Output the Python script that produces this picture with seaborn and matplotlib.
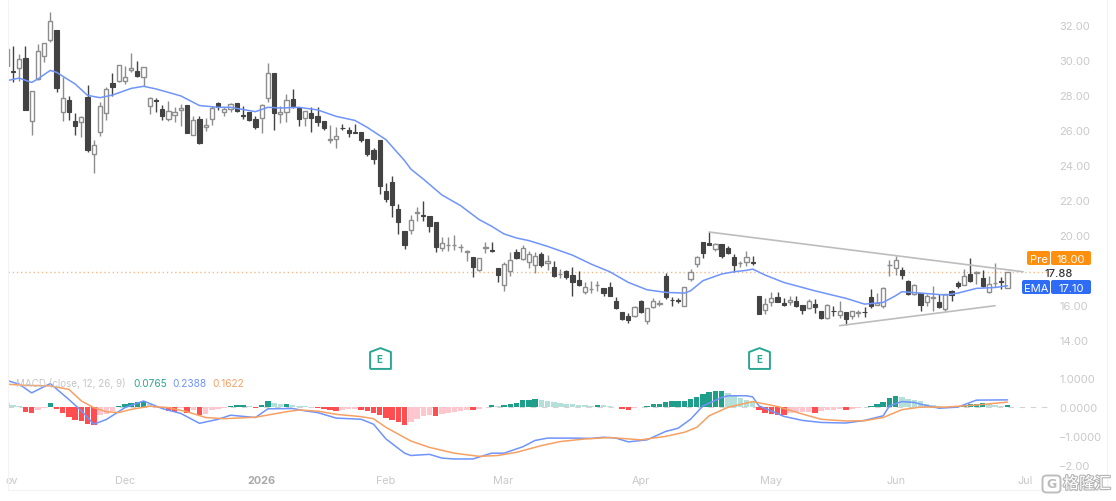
import matplotlib
matplotlib.use("Agg")
import matplotlib.pyplot as plt
import matplotlib.patheffects as pe
from matplotlib.patches import FancyBboxPatch, Rectangle
from matplotlib.transforms import IdentityTransform
import numpy as np
import pandas as pd
import seaborn as sns

# Daily candles, oldest first
opens = [
    29.68, 29.37, 29.53, 30.12, 26.54, 28.92, 30.25, 31.17, 31.74, 27.01,
    27.70, 26.52, 26.44, 27.87, 24.63, 25.87, 26.97, 28.69, 28.78, 28.80,
    29.41, 29.39, 29.01, 27.36, 27.73, 27.20, 26.63, 26.88, 27.15, 27.43,
    25.72, 26.63, 26.17, 26.63, 27.55, 27.05, 27.18, 27.53, 26.86, 27.03,
    26.63, 26.67, 27.81, 29.24, 26.90, 27.01, 27.79, 27.26, 26.69, 26.97,
    26.78, 26.54, 25.41, 25.49, 26.13, 26.00, 25.89, 25.91, 25.49, 24.88,
    25.45, 22.52, 23.03, 21.47, 20.21, 20.27, 21.28, 21.13, 21.09, 20.76,
    19.26, 19.43, 19.43, 19.31, 19.05, 18.72, 17.98, 19.27, 19.14, 18.11,
    17.14, 17.96, 19.01, 18.63, 18.44, 18.30, 18.91, 18.38, 18.20, 17.78,
    17.96, 17.71, 17.40, 16.72, 16.89, 17.13, 16.95, 17.00, 16.24, 15.61,
    15.39, 15.39, 16.24, 15.10, 15.88, 16.07, 17.63, 16.30, 16.26, 15.97,
    17.48, 18.37, 19.58, 19.54, 19.19, 19.48, 19.27, 18.76, 18.38, 18.43,
    18.45, 16.53, 15.71, 16.18, 16.45, 16.13, 16.15, 16.24, 16.00, 15.80,
    16.03, 15.67, 15.23, 15.68, 15.42, 15.58, 15.35, 15.56, 15.61, 16.43,
    16.01, 15.96, 18.28, 18.09, 17.99, 17.39, 16.62, 16.68, 16.15, 16.41,
    16.18, 15.77, 16.80, 17.25, 17.14, 17.77, 17.84, 17.56, 16.72, 17.23,
    17.36, 16.99,
]
highs = [
    30.63, 30.78, 30.35, 30.82, 28.21, 30.92, 30.96, 32.73, 31.74, 29.01,
    27.93, 26.97, 26.78, 28.57, 25.45, 27.58, 28.44, 29.26, 29.72, 29.68,
    30.40, 29.93, 29.60, 27.87, 27.81, 27.43, 27.68, 27.30, 27.49, 27.43,
    26.82, 26.78, 26.67, 27.36, 27.62, 27.30, 27.55, 27.55, 27.36, 27.03,
    26.82, 27.47, 29.83, 29.24, 27.39, 28.06, 28.35, 27.26, 27.11, 27.30,
    27.30, 26.54, 26.29, 26.16, 26.33, 26.16, 26.35, 25.91, 25.49, 24.95,
    25.45, 22.95, 23.35, 21.77, 20.21, 21.14, 21.62, 21.96, 21.09, 20.76,
    19.91, 19.87, 19.98, 19.47, 19.16, 18.72, 18.67, 19.62, 19.58, 18.11,
    18.44, 19.01, 19.20, 19.43, 19.10, 19.01, 19.05, 18.86, 18.49, 18.05,
    18.01, 18.20, 17.96, 17.29, 17.39, 17.39, 16.95, 17.29, 16.43, 15.61,
    15.54, 15.92, 16.28, 15.82, 16.38, 16.30, 17.82, 16.43, 16.39, 17.00,
    18.05, 18.81, 19.58, 20.15, 19.54, 19.48, 19.38, 18.91, 18.53, 19.10,
    18.78, 16.53, 16.38, 16.76, 16.76, 16.38, 16.49, 16.49, 16.00, 16.34,
    16.34, 15.67, 16.05, 15.92, 16.24, 15.58, 15.67, 15.73, 15.86, 16.91,
    16.68, 17.00, 18.59, 18.78, 18.15, 17.42, 17.18, 16.68, 16.60, 17.10,
    16.62, 16.62, 16.87, 17.38, 18.05, 18.66, 17.96, 18.01, 17.67, 18.40,
    17.58, 17.90,
]
lows = [
    29.68, 28.73, 28.82, 27.17, 25.72, 28.88, 29.87, 31.01, 28.19, 26.54,
    26.59, 25.72, 25.58, 24.76, 23.55, 25.68, 26.59, 27.97, 28.73, 28.63,
    29.30, 29.01, 28.50, 26.92, 27.01, 26.59, 26.50, 26.44, 26.21, 25.81,
    25.72, 25.18, 25.97, 26.29, 27.17, 26.82, 27.05, 27.05, 26.63, 26.54,
    26.06, 25.83, 27.62, 26.02, 26.40, 26.48, 27.24, 26.21, 26.21, 25.91,
    26.21, 26.02, 25.26, 24.97, 26.02, 25.62, 25.83, 25.30, 24.53, 24.06,
    22.34, 21.87, 21.05, 20.06, 19.20, 20.06, 20.82, 20.82, 20.15, 19.05,
    19.10, 19.10, 19.14, 19.01, 18.53, 17.60, 17.92, 18.95, 19.01, 17.33,
    16.82, 17.67, 18.63, 18.59, 18.11, 17.83, 18.19, 18.02, 17.58, 17.52,
    17.48, 16.49, 17.10, 16.62, 16.68, 16.81, 16.53, 16.51, 15.77, 15.14,
    14.95, 15.29, 15.54, 14.93, 15.84, 15.92, 16.34, 15.92, 16.11, 15.95,
    17.39, 18.15, 18.66, 19.42, 19.10, 18.68, 18.91, 17.90, 18.15, 18.24,
    18.28, 15.48, 15.48, 15.92, 16.15, 15.96, 15.99, 15.86, 15.48, 15.77,
    15.54, 15.19, 15.19, 15.38, 15.23, 14.85, 15.19, 15.29, 15.29, 15.80,
    16.00, 15.80, 17.63, 17.71, 17.48, 16.57, 16.57, 15.67, 15.96, 15.67,
    15.80, 15.63, 16.24, 16.95, 17.14, 17.33, 17.19, 17.00, 16.68, 17.00,
    16.91, 16.95,
]
closes = [
    30.63, 29.32, 30.06, 27.17, 28.21, 30.54, 30.96, 32.21, 28.38, 27.81,
    27.05, 26.25, 26.73, 24.88, 25.17, 27.39, 28.35, 28.48, 29.72, 29.05,
    29.53, 29.07, 29.60, 27.81, 27.66, 26.82, 27.07, 27.05, 27.28, 25.81,
    26.59, 25.24, 26.27, 27.24, 27.32, 27.18, 27.47, 27.07, 26.82, 26.57,
    26.16, 27.43, 29.26, 26.97, 27.01, 27.72, 27.39, 26.63, 27.11, 26.69,
    26.44, 26.10, 25.47, 25.64, 26.10, 25.85, 25.83, 25.43, 24.61, 24.34,
    22.82, 22.06, 21.73, 20.72, 19.43, 20.84, 21.30, 21.11, 20.53, 19.30,
    19.54, 19.45, 19.45, 19.33, 19.07, 18.19, 18.67, 19.29, 19.11, 17.73,
    18.34, 18.59, 18.67, 19.24, 18.90, 18.78, 18.29, 18.51, 17.67, 17.80,
    17.58, 17.33, 17.16, 17.04, 16.91, 17.15, 16.70, 16.51, 15.82, 15.18,
    15.12, 15.86, 15.61, 15.82, 16.22, 16.09, 16.47, 16.27, 16.23, 17.00,
    17.86, 18.76, 19.00, 19.42, 19.46, 18.78, 19.00, 18.30, 18.40, 18.72,
    18.42, 15.48, 16.05, 16.41, 16.18, 16.01, 16.28, 15.96, 15.73, 16.24,
    15.86, 15.23, 16.00, 15.66, 15.67, 15.19, 15.65, 15.58, 15.59, 15.92,
    16.11, 16.95, 18.30, 18.59, 17.71, 16.62, 17.14, 15.99, 16.49, 16.43,
    15.86, 16.62, 16.57, 17.06, 17.67, 17.39, 17.86, 17.06, 17.20, 17.25,
    17.34, 17.88,
]

# Moving average, read at the bars listed
ema_bars = [1, 3, 5, 6, 8, 9, 12, 14, 16, 18, 21, 23, 25, 29, 32, 35, 37, 41, 43, 45,
            48, 51, 54, 57, 59, 62, 65, 66, 68, 71, 74, 77, 79, 81, 83, 85, 88, 92, 95,
            98, 101, 104, 107, 110, 111, 113, 116, 118, 120, 121, 123, 126, 131, 136,
            139, 142, 144, 145, 148, 152, 154, 157, 160, 162]
ema_vals = [28.82, 28.97, 28.72, 28.92, 29.41, 29.3, 28.63, 27.98, 27.85, 28.0, 28.38,
            28.5, 28.35, 27.95, 27.4, 27.3, 27.3, 27.05, 27.3, 27.26, 27.3, 27.15, 26.78,
            26.55, 26.15, 25.45, 24.25, 23.77, 23.2, 22.29, 21.68, 20.88, 20.5, 20.06,
            19.83, 19.68, 19.35, 18.85, 18.34, 17.9, 17.29, 16.87, 16.72, 16.68, 16.81,
            17.39, 17.77, 17.9, 17.98, 18.05, 17.71, 17.29, 16.81, 16.38, 16.05, 16.15,
            16.53, 16.76, 16.68, 16.57, 16.68, 16.95, 17.0, 17.10]

# MACD histogram per bar
hist_vals = [
    .14, .06, .04, -.18, -.23, -.10, -.03, .13, -.06, -.20,
    -.35, -.47, -.49, -.58, -.62, -.30, -.25, -.14, .04, .08,
    .14, .15, .19, .08, .04, -.05, -.14, -.17, -.05, -.22,
    -.12, -.30, -.24, -.12, -.08, -.03, .02, .06, .07, .03,
    -.03, .05, .20, .13, .10, .11, .07, .04, .03, .01,
    -.03, -.06, -.12, -.16, -.10, -.09, -.07, -.11, -.16, -.21,
    -.30, -.40, -.47, -.53, -.62, -.53, -.43, -.33, -.29, -.33,
    -.25, -.22, -.18, -.13, -.11, -.12, -.08, -.02, .07, .02,
    .05, .08, .14, .22, .25, .26, .22, .20, .17, .14,
    .11, .08, .07, .05, .03, .06, .05, .03, -.02, -.07,
    -.10, -.04, -.02, .02, .08, .10, .15, .19, .195, .20,
    .26, .33, .45, .51, .55, .56, .47, .42, .30, .22,
    .15, -.10, -.20, -.25, -.28, -.29, -.20, -.18, -.18, -.18,
    -.20, -.13, -.12, -.10, -.09, -.10, -.06, -.04, -.02, .02,
    .08, .15, .29, .37, .33, .27, .22, .20, .10, .05,
    .03, .01, -.01, .01, .07, .10, .105, .12, .08, .05,
    .04, .0765,
]

# DIF line
dif_bars = [1, 3, 5, 8, 11, 13, 15, 17, 20, 23, 26, 29, 32, 35, 37, 41, 43, 47, 49, 51,
            54, 58, 60, 62, 65, 66, 69, 71, 73, 76, 79, 81, 84, 86, 88, 92, 95, 97, 99,
            101, 104, 107, 109, 111, 113, 116, 117, 120, 121, 122, 124, 126, 129, 132,
            136, 139, 142, 143, 145, 147, 148, 151, 154, 157, 162]
dif_vals = [.91, .78, .48, .80, .25, -.14, -.60, -.44, -.03, .20, -.06, -.23, -.57, -.43,
            -.29, -.37, -.07, -.06, -.14, -.20, -.39, -.43, -.60, -1.11, -1.60, -1.68,
            -1.64, -1.77, -1.80, -1.80, -1.60, -1.60, -1.38, -1.16, -1.08, -1.08, -1.09,
            -1.05, -1.08, -1.21, -1.14, -.85, -.74, -.43, .03, .32, .38, .38, .34, .03,
            -.14, -.33, -.47, -.54, -.56, -.47, -.31, .03, .18, .15, .09, -.05, -.01,
            .23, .2388]

# Signal line
dea_bars = [1, 4, 8, 11, 13, 15, 17, 19, 21, 24, 27, 30, 33, 36, 41, 46, 48, 51, 54, 58,
            60, 62, 66, 69, 73, 77, 80, 83, 87, 90, 94, 98, 103, 107, 110, 112, 114, 117,
            120, 121, 125, 129, 132, 136, 139, 142, 145, 148, 152, 157, 162]
dea_vals = [.78, .74, .72, .60, .20, -.03, -.17, -.20, -.09, .02, -.03, -.17, -.37, -.41,
            -.36, -.17, -.11, -.15, -.26, -.34, -.41, -.71, -1.18, -1.40, -1.60, -1.71,
            -1.68, -1.57, -1.34, -1.20, -1.11, -1.06, -1.14, -1.02, -.88, -.71, -.31,
            -.02, .13, .18, .01, -.25, -.43, -.49, -.48, -.37, -.10, -.01, -.01, .06, .1622]

# Trend lines: (first bar, last bar), (first price, last price)
upper_trend_bars = [114, 164.5]
upper_trend_prices = [20.17, 17.90]
lower_trend_bars = [135, 160]
lower_trend_prices = [14.82, 15.96]

price_ticks = [32, 30, 28, 26, 24, 22, 20, 16, 14]
macd_ticks = [1, 0, -1]
month_labels = ["ov", "Dec", "2026", "Feb", "Mar", "Apr", "May", "Jun", "Jul"]
month_bars = [1.76, 20, 42, 62, 80.8, 103, 123.9, 144, 164.8]
earnings_bars = [61, 122]
earnings_level = 12.97
last_price = 17.88
pre_price = "18.00"
ema_price = "17.10"
macd_title = "MACD (close, 12, 26, 9)"
macd_readings = ["0.0765", "0.2388", "0.1622"]

sns.set_theme(style="white")
plt.rcParams["font.family"] = ["Inter", "DejaVu Sans"]

W, H = 1116, 502
DPI = 100
TICK_GREY = "#c9c9c9"
UP_EDGE = "#8d8d8d"
DOWN_FILL = "#434343"
BLUE = "#6f94fa"
ORANGE = "#f6a063"
TEAL = "#2aa693"

fig = plt.figure(figsize=(W / DPI, H / DPI), dpi=DPI, facecolor="white")


def pane(left, right, top, bottom):
    return fig.add_axes([left / W, 1 - bottom / H, (right - left) / W, (bottom - top) / H])


ax = pane(8, 1107, 0, 373)
ax_macd = pane(8, 1107, 373, 491)
bar_lim = (1.196, 178.0)
for a in (ax, ax_macd):
    a.set_xlim(*bar_lim)
    a.set_xticks([])
    a.set_yticks([])
    a.set_xlabel("")
    a.set_ylabel("")
    a.patch.set_alpha(0)
    for side in ("top", "right", "left", "bottom"):
        a.spines[side].set_visible(False)
ax.set_ylim(12.17, 33.49)
ax_macd.set_ylim(-2.87, 1.2)

candles = pd.DataFrame({"bar": np.arange(1, len(opens) + 1), "open": opens,
                        "high": highs, "low": lows, "close": closes})
rising = candles["close"] >= candles["open"]
body_low = candles[["open", "close"]].min(axis=1)
body_size = (candles["close"] - candles["open"]).abs()

# Wicks sit under the bodies
ax.vlines(candles["bar"][rising], candles["low"][rising], candles["high"][rising],
          color=UP_EDGE, lw=1.0, zorder=2)
ax.vlines(candles["bar"][~rising], candles["low"][~rising], candles["high"][~rising],
          color=DOWN_FILL, lw=1.0, zorder=2)
ax.bar(candles["bar"][rising], body_size[rising], bottom=body_low[rising], width=0.68,
       facecolor="white", edgecolor=UP_EDGE, linewidth=1.0, zorder=3)
ax.bar(candles["bar"][~rising], body_size[~rising], bottom=body_low[~rising], width=0.68,
       facecolor=DOWN_FILL, edgecolor=DOWN_FILL, linewidth=0.8, zorder=3)

# Last-price guide and moving average
ax.plot([bar_lim[0], 169], [last_price, last_price], color="#f8b98a", lw=1.0,
        ls=(0, (1, 2)), zorder=1)
sns.lineplot(x=ema_bars, y=ema_vals, ax=ax, color=BLUE, lw=1.1, estimator=None, sort=False, zorder=4)

sns.lineplot(x=upper_trend_bars, y=upper_trend_prices, ax=ax, color="#bdbdbd", lw=1.2,
             estimator=None, sort=False, zorder=2)
sns.lineplot(x=lower_trend_bars, y=lower_trend_prices, ax=ax, color="#bdbdbd", lw=1.2,
             estimator=None, sort=False, zorder=2)

# Price axis labels inside the right of the pane
y_trans = ax.get_yaxis_transform()
label_x = (1059 - 8) / (1107 - 8)
for tick in price_ticks:
    ax.text(label_x, tick, f"{tick:.2f}", transform=y_trans, ha="left", va="center_baseline",
            fontsize=8, color=TICK_GREY)
ax.text((1044 - 8) / (1107 - 8), last_price, f"{last_price:.2f}", transform=y_trans, ha="left",
        va="center_baseline", fontsize=8, color="#333333", fontweight="medium")


def badge(x0, x1, y0, y1, color, text):
    """Rounded tag placed by screen position, with white centred text."""
    fig.add_artist(FancyBboxPatch((x0 + 1, H - y1 + 1), x1 - x0 - 2, y1 - y0 - 2,
                                  boxstyle="round,pad=1,rounding_size=2", facecolor=color,
                                  edgecolor="none", transform=IdentityTransform()))
    fig.text((x0 + x1) / 2 / W, 1 - (y0 + y1) / 2 / H, text, color="white", fontsize=8,
             ha="center", va="center_baseline")


badge(1027, 1050, 252, 266, "#ff8f0f", "Pre")
badge(1051, 1091, 252, 266, "#ff8f0f", pre_price)
badge(1022, 1050, 281, 295, "#2f6cf6", "EMA")
badge(1051, 1091, 281, 295, "#2f6cf6", ema_price)

# Earnings markers
tag = [(-1, -1), (1, -1), (1, 0.62), (0, 1), (-1, 0.62), (-1, -1)]
for b in earnings_bars:
    ax.plot([b], [earnings_level], marker=tag, ms=15, mfc="white", mec=TEAL, mew=1.4,
            clip_on=False, zorder=5)
    ax.text(b, earnings_level - 0.03, "E", ha="center", va="center", fontsize=7,
            fontweight="bold", color=TEAL, zorder=6)

# MACD pane
ax_macd.axhline(0, color="#d2d2d2", lw=0.8, ls=(0, (5, 5)), zorder=0, xmax=(169 - bar_lim[0]) / (bar_lim[1] - bar_lim[0]))

hist_state = []
for k, value in enumerate(hist_vals):
    grew = k > 0 and value >= hist_vals[k - 1]
    if value >= 0:
        hist_state.append("pos_up" if grew else "pos_down")
    else:
        hist_state.append("neg_up" if grew else "neg_down")
hist_frame = pd.DataFrame({"bar": np.arange(1, len(hist_vals) + 1), "value": hist_vals, "state": hist_state})
sns.barplot(data=hist_frame, x="bar", y="value", hue="state", native_scale=True, dodge=False,
            palette={"pos_up": "#1f9e8c", "pos_down": "#b4e0d9", "neg_down": "#ff4d50", "neg_up": "#ffc6ce"},
            width=0.88, legend=False, ax=ax_macd, zorder=2, linewidth=0, saturation=1)
sns.lineplot(x=dif_bars, y=dif_vals, ax=ax_macd, color=BLUE, lw=1.1, estimator=None, sort=False, zorder=4)
sns.lineplot(x=dea_bars, y=dea_vals, ax=ax_macd, color=ORANGE, lw=1.1, estimator=None, sort=False, zorder=5)
ax_macd.set_xlim(*bar_lim)
ax_macd.set_ylim(-2.87, 1.2)
ax_macd.set_xlabel("")
ax_macd.set_ylabel("")
ax_macd.set_xticks([])
ax_macd.set_yticks([])

macd_trans = ax_macd.get_yaxis_transform()
for tick in macd_ticks:
    text = f"{tick:.4f}".replace("-", "\u2212")
    ax_macd.text(label_x, tick, text, transform=macd_trans, ha="left", va="center_baseline",
                 fontsize=8, color=TICK_GREY)
ax_macd.text(label_x, -2, "\u22122.00", transform=macd_trans, ha="left", va="center_baseline",
             fontsize=8, color=TICK_GREY)

# Indicator heading
fig.text(16 / W, 1 - 384 / H, macd_title, fontsize=7.1, color="#c6c6c6", ha="left", va="center", zorder=10)
for x_px, text, color in zip((133, 172, 212), macd_readings, (TEAL, BLUE, ORANGE)):
    fig.text(x_px / W, 1 - 384 / H, text, fontsize=7.3, color=color, ha="left", va="center", zorder=10)

# Month labels along the bottom of the MACD pane
date_level = ax_macd.get_ylim()[0] + (491 - 481) / 29.0
for b, text in zip(month_bars, month_labels):
    ax_macd.text(b, date_level, text, ha="center", va="center", fontsize=7.8,
                 color="#a9a9a9" if text == "2026" else TICK_GREY,
                 fontweight="bold" if text == "2026" else "normal")

# Faint pane frame
fig.add_artist(Rectangle((8, H - 491), 1099, 491, fill=False, edgecolor="#f3f3f3", lw=0.8,
                         transform=IdentityTransform()))

# Publisher mark
fig.add_artist(FancyBboxPatch((1044, H - 492), 15, 14, boxstyle="round,pad=1.5,rounding_size=4",
                              facecolor="white", edgecolor="#bdbdbd", lw=1.4,
                              transform=IdentityTransform()))
fig.text(1051.5 / W, 1 - 485 / H, "G", fontsize=9, fontweight="bold", color="#bdbdbd",
         ha="center", va="center", family=["DejaVu Sans"])
mark = fig.text(1087 / W, 1 - 485 / H, "格隆汇", fontsize=11.5, color="white", ha="center", va="center",
                family=["Noto Sans CJK SC", "DejaVu Sans"])
mark.set_path_effects([pe.withStroke(linewidth=1.6, foreground="#b4b4b4")])

fig.savefig("out.png", dpi=DPI, facecolor="white")
